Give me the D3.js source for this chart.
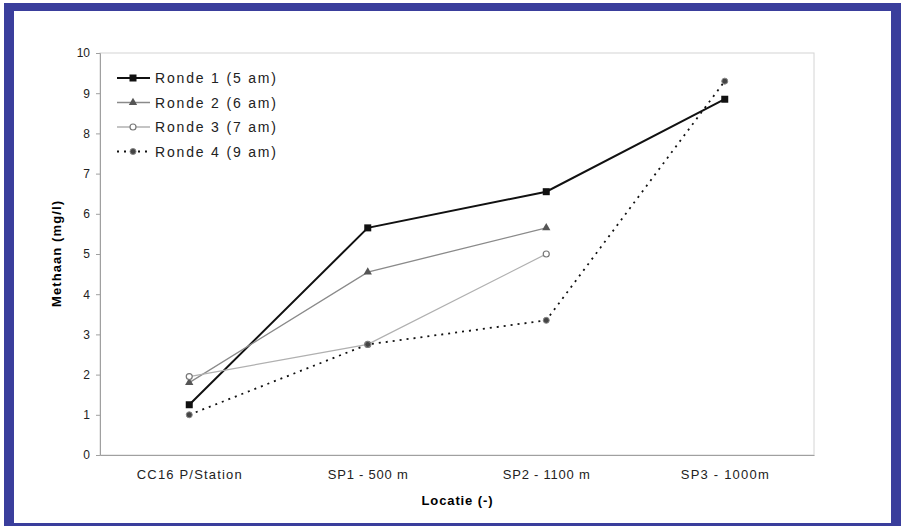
<!DOCTYPE html>
<html>
<head>
<meta charset="utf-8">
<script src="https://cdn.jsdelivr.net/npm/d3@7"></script>
<style>
  body { margin: 0; background: #fff; }
  text { font-family: "Liberation Sans", Arial, sans-serif; }
</style>
</head>
<body>
<svg id="grafiek"></svg>
<script>
// categorieen op de x-as
const locaties = ["CC16 P/Station", "SP1 - 500 m", "SP2 - 1100 m", "SP3 - 1000m"];

// meetwaarden per ronde (null = geen meting)
const ronde1 = [1.25, 5.65, 6.55, 8.85];
const ronde2 = [1.8, 4.55, 5.65, null];
const ronde3 = [1.95, 2.75, 5.0, null];
const ronde4 = [1.0, 2.75, 3.35, 9.3];

const reeksNamen = ["Ronde 1 (5 am)", "Ronde 2 (6 am)", "Ronde 3 (7 am)", "Ronde 4 (9 am)"];
const yTicks = [0, 1, 2, 3, 4, 5, 6, 7, 8, 9, 10];

const breedte = 901, hoogte = 526;
const links = 100, rechts = 814, boven = 53, onder = 455;

const svg = d3.select("#grafiek").attr("width", breedte).attr("height", hoogte);

// blauwe kader
svg.append("rect").attr("x", 4).attr("y", 3).attr("width", 905).attr("height", 530).style("fill", "#3a3e9c");
svg.append("rect").attr("x", 14).attr("y", 11).attr("width", 877).attr("height", 512).style("fill", "#fff");

const x = d3.scaleBand().domain(locaties).range([links, rechts]);
const y = d3.scaleLinear().domain([0, 10]).range([onder, boven]);

// rand van plotgebied
svg.append("rect")
  .attr("x", links).attr("y", boven)
  .attr("width", rechts - links).attr("height", onder - boven)
  .style("fill", "none").style("stroke", "#d4d4d4").style("stroke-width", 1);

// y-as
const yAs = svg.append("g").attr("transform", `translate(${links},0)`)
  .call(d3.axisLeft(y).tickValues(yTicks).tickSize(4).tickFormat(d3.format("d")));
yAs.select(".domain").style("stroke", "#a0a0a0");
yAs.selectAll("line").style("stroke", "#a0a0a0");
yAs.selectAll("text").style("font-size", "12px").style("fill", "#222").attr("x", -10);

// x-as, labelbreedtes zoals in het origineel
const labelBreedte = [105, 80, 87, 88];
const xAs = svg.append("g").attr("transform", `translate(0,${onder})`)
  .call(d3.axisBottom(x).tickSize(0));
xAs.select(".domain").style("stroke", "#a0a0a0");
xAs.selectAll("text").style("font-size", "13px").style("fill", "#222").attr("dy", "1.6em")
  .attr("textLength", (d, i) => labelBreedte[i]).attr("lengthAdjust", "spacing");

// astitels
svg.append("text").attr("x", 457).attr("y", 505).attr("text-anchor", "middle")
  .style("font-size", "13px").style("font-weight", "bold")
  .attr("textLength", 71).attr("lengthAdjust", "spacing").text("Locatie (-)");
svg.append("text").attr("transform", "translate(61,254) rotate(-90)").attr("text-anchor", "middle")
  .style("font-size", "13px").style("font-weight", "bold")
  .attr("textLength", 106).attr("lengthAdjust", "spacing").text("Methaan (mg/l)");

// stijlen per reeks
const stijlen = [
  { kleur: "#111", dikte: 2, streep: null, marker: "vierkant" },
  { kleur: "#8a8a8a", dikte: 1.3, streep: null, marker: "driehoek" },
  { kleur: "#b0b0b0", dikte: 1.3, streep: null, marker: "cirkel" },
  { kleur: "#111", dikte: 1.8, streep: "2,5", marker: "stip" }
];
const reeksen = [ronde1, ronde2, ronde3, ronde4];

const lijn = d3.line()
  .defined(d => d.v !== null)
  .x(d => x(d.loc) + x.bandwidth() / 2)
  .y(d => y(d.v));

function tekenMarker(g, soort, kleur, cx, cy) {
  if (soort == "vierkant") {
    g.append("rect").attr("x", cx - 3.5).attr("y", cy - 3.5).attr("width", 7).attr("height", 7).style("fill", kleur);
  } else if (soort == "driehoek") {
    g.append("path").attr("d", d3.symbol(d3.symbolTriangle, 30)()).attr("transform", `translate(${cx},${cy})`).style("fill", "#555");
  } else if (soort == "cirkel") {
    g.append("circle").attr("cx", cx).attr("cy", cy).attr("r", 3).style("fill", "#fff").style("stroke", "#777").style("stroke-width", 1.2);
  } else {
    g.append("circle").attr("cx", cx).attr("cy", cy).attr("r", 3).style("fill", "#444").style("stroke", "#888").style("stroke-width", 1);
  }
}

reeksen.forEach((reeks, k) => {
  const s = stijlen[k];
  const punten = reeks.map((v, i) => ({ loc: locaties[i], v: v }));
  const g = svg.append("g");
  g.append("path").datum(punten).attr("d", lijn)
    .style("fill", "none").style("stroke", s.kleur).style("stroke-width", s.dikte)
    .style("stroke-dasharray", s.streep);
  punten.filter(p => p.v !== null).forEach(p => {
    tekenMarker(g, s.marker, s.kleur, x(p.loc) + x.bandwidth() / 2, y(p.v));
  });
});

// legenda
reeksNamen.forEach((naam, k) => {
  const s = stijlen[k];
  const ly = 78 + k * 24.5;
  const g = svg.append("g");
  g.append("line").attr("x1", 117).attr("x2", 150).attr("y1", ly).attr("y2", ly)
    .style("stroke", s.kleur).style("stroke-width", s.dikte).style("stroke-dasharray", s.streep);
  tekenMarker(g, s.marker, s.kleur, 133, ly);
  g.append("text").attr("x", 155).attr("y", ly + 5).style("font-size", "14px").style("fill", "#222")
    .attr("textLength", 121).attr("lengthAdjust", "spacing").text(naam);
});
</script>
</body>
</html>
